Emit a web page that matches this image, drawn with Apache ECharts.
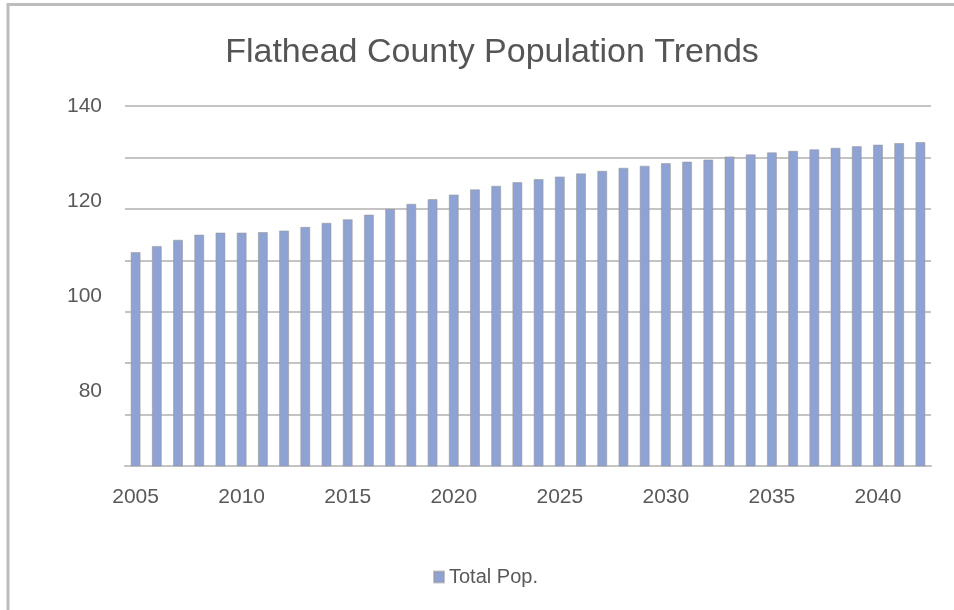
<!DOCTYPE html>
<html>
<head>
<meta charset="utf-8">
<script src="https://cdn.jsdelivr.net/npm/echarts@6/dist/echarts.min.js"></script>
<style>
  html, body { margin: 0; padding: 0; background: #ffffff; }
  #chart { width: 954px; height: 610px; }
</style>
</head>
<body>
<div id="chart"></div>
<script>
// Years shown on the category axis
const years = [];
for (let y = 2005; y <= 2042; y++) years.push(String(y));

// Total population (thousands), one value per year
const totalPop = [
  111.6, 112.8, 114.0, 115.0, 115.4, 115.4, 115.5, 115.8, 116.5, 117.3,
  118.0, 118.9, 120.0, 121.0, 121.9, 122.8, 123.8, 124.5, 125.2, 125.8,
  126.3, 126.9, 127.4, 128.0, 128.4, 128.9, 129.2, 129.6, 130.2, 130.6,
  131.0, 131.3, 131.6, 131.9, 132.2, 132.5, 132.8, 133.0
];

// Value-axis tick labels
const valueTicks = [80, 100, 120, 140];

const textColor = '#595959';
const gridColor = '#c4c4c4';
const font = '"Liberation Sans", Arial, sans-serif';

const chart = echarts.init(document.getElementById('chart'), null, { renderer: 'canvas' });

chart.setOption({
  backgroundColor: '#ffffff',
  animation: false,
  title: {
    text: 'Flathead County Population Trends',
    left: 487,
    top: 31,
    textAlign: 'center',
    textStyle: { fontFamily: font, fontSize: 34, fontWeight: 'normal', color: '#555555' }
  },
  legend: {
    data: ['Total Pop.'],
    left: 428,
    top: 562,
    icon: 'rect',
    itemWidth: 10,
    itemHeight: 11,
    textStyle: { fontFamily: font, fontSize: 20, color: textColor }
  },
  grid: { left: 125, right: 23, top: 106, bottom: 144 },
  xAxis: {
    type: 'category',
    data: years,
    axisLine: { lineStyle: { color: gridColor, width: 2 } },
    axisTick: { show: false },
    axisLabel: {
      interval: 4,
      margin: 21,
      fontFamily: font,
      fontSize: 21,
      color: textColor
    }
  },
  yAxis: [
    {
      type: 'value',
      min: 70,
      max: 140,
      interval: 10,
      axisLine: { show: false },
      axisTick: { show: false },
      axisLabel: { show: false },
      splitLine: { lineStyle: { color: gridColor, width: 2 } }
    },
    {
      type: 'value',
      position: 'left',
      min: 64.2,
      max: 140,
      axisLine: { show: false },
      axisTick: { show: false },
      splitLine: { show: false },
      axisLabel: {
        customValues: valueTicks,
        margin: 23,
        padding: [5, 0, 0, 0],
        fontFamily: font,
        fontSize: 21,
        color: textColor
      }
    }
  ],
  series: [
    {
      name: 'Total Pop.',
      type: 'bar',
      yAxisIndex: 0,
      data: totalPop,
      barWidth: 10,
      itemStyle: {
        color: '#8fa2d4',
        borderColor: 'rgba(150,150,150,0.55)',
        borderWidth: 1
      }
    }
  ],
  graphic: [
    {
      type: 'polyline',
      shape: { points: [[8, 610], [8, 4.5], [954, 4.5]] },
      style: { stroke: '#bdbdbd', lineWidth: 3, fill: null },
      silent: true
    }
  ]
});
</script>
</body>
</html>
